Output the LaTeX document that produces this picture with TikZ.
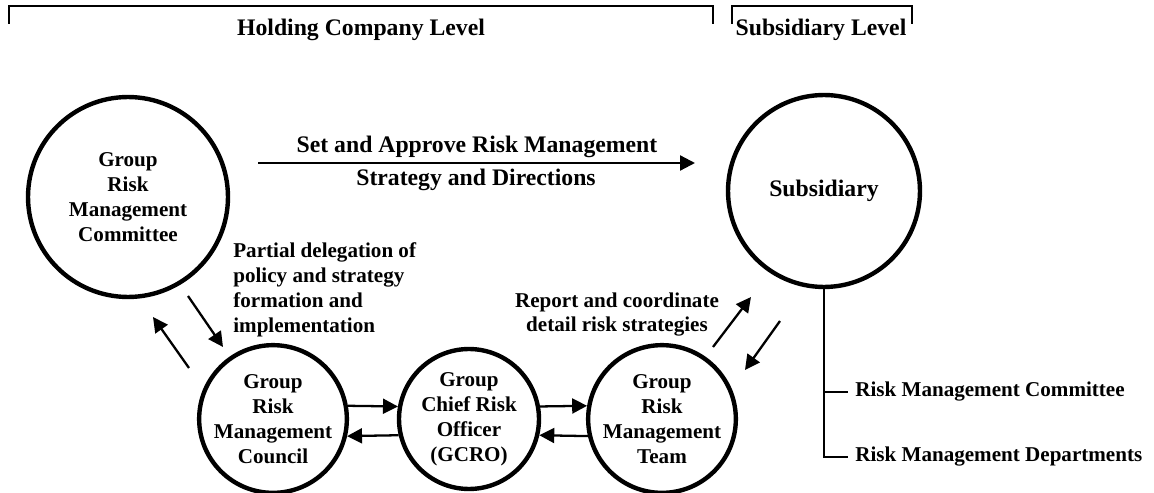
\documentclass[tikz,border=0pt]{standalone}
\usepackage{fontspec}
\setmainfont{Liberation Serif}
\usetikzlibrary{arrows.meta, calc}
\newcommand{\letragrande}{\fontsize{13.5}{16}\selectfont\bfseries}
\newcommand{\letrachica}{\fontsize{12}{14.2}\selectfont\bfseries}
\tikzset{
  nodo/.style     = {circle, draw, line width=2.5pt, align=center, inner sep=0pt, font=\letrachica},
  flecha/.style   = {-{Triangle[length=8.5pt, width=8.5pt]}, line width=1.3pt},
  corchete/.style = {line width=1.5pt},
  rama/.style     = {line width=1.1pt},
  rotulo/.style   = {font=\letrachica, inner sep=0pt}
}
\begin{document}
\begin{tikzpicture}[x=0.02cm, y=-0.02cm]
  \useasboundingbox (0,0) rectangle (1154,493);

  % brackets on top
  \draw[corchete] (9,24) -- (9,6) -- (713,6) -- (713,24);
  \draw[corchete] (732,24) -- (732,6) -- (912,6) -- (912,24);
  \node[font=\letragrande] (holding) at (361,30) {Holding Company Level};
  \node[font=\letragrande] (sublevel) at (821,30) {Subsidiary Level};

  % circles
  \node[nodo, minimum size=4cm] (grmc) at (128,197) {Group\\Risk\\Management\\Committee};
  \node[nodo, minimum size=3.84cm, font=\letragrande] (sub) at (824,191) {Subsidiary};
  \node[nodo, minimum size=2.8cm] (council) at (273,419) {Group\\Risk\\Management\\Council};
  \node[nodo, minimum size=2.8cm] (gcro) at (469,419) {Group\\Chief Risk\\Officer\\(GCRO)};
  \node[nodo, minimum size=2.8cm] (grmt) at (662,419) {Group\\Risk\\Management\\Team};

  % top arrow
  \coordinate (setA) at (258,163);
  \coordinate (setB) at (695,163);
  \draw[flecha] (setA) -- (setB);
  \node[font=\letragrande] (setlbl) at (477,147) {Set and Approve Risk Management};
  \node[font=\letragrande] (stratlbl) at (476,180) {Strategy and Directions};

  % left pair
  \coordinate (upA) at (189,368);
  \coordinate (upB) at (153,317);
  \coordinate (dnA) at (188,296);
  \coordinate (dnB) at (223,347);
  \draw[flecha] (upA) -- (upB);
  \draw[flecha] (dnA) -- (dnB);
  \node[rotulo, anchor=west, align=left] (deleg) at (233,289.5)
    {Partial delegation of\\policy and strategy\\formation and\\implementation};

  % right pair
  \coordinate (ruA) at (713,347);
  \coordinate (ruB) at (751,297);
  \coordinate (rdA) at (780,321);
  \coordinate (rdB) at (745,370);
  \draw[flecha] (ruA) -- (ruB);
  \draw[flecha] (rdA) -- (rdB);
  \node[rotulo, align=center] (report) at (617,314.5)
    {Report and coordinate\\detail risk strategies};

  % bottom row
  \draw[flecha] (council.10) -- (gcro.170);
  \draw[flecha] (gcro.193) -- (council.-13);
  \draw[flecha] (gcro.10) -- (grmt.170);
  \draw[flecha] (grmt.193) -- (gcro.-13);

  % subsidiary units
  \node[rotulo, anchor=west] (rmc) at (855,392) {Risk Management Committee};
  \node[rotulo, anchor=west] (rmd) at (855,457) {Risk Management Departments};
  \draw[rama] (sub.south) -- (sub.south |- rmd.west) -- ([xshift=-4pt]rmd.west);
  \draw[rama] (sub.south |- rmc.west) -- ([xshift=-4pt]rmc.west);
\end{tikzpicture}
\end{document}
